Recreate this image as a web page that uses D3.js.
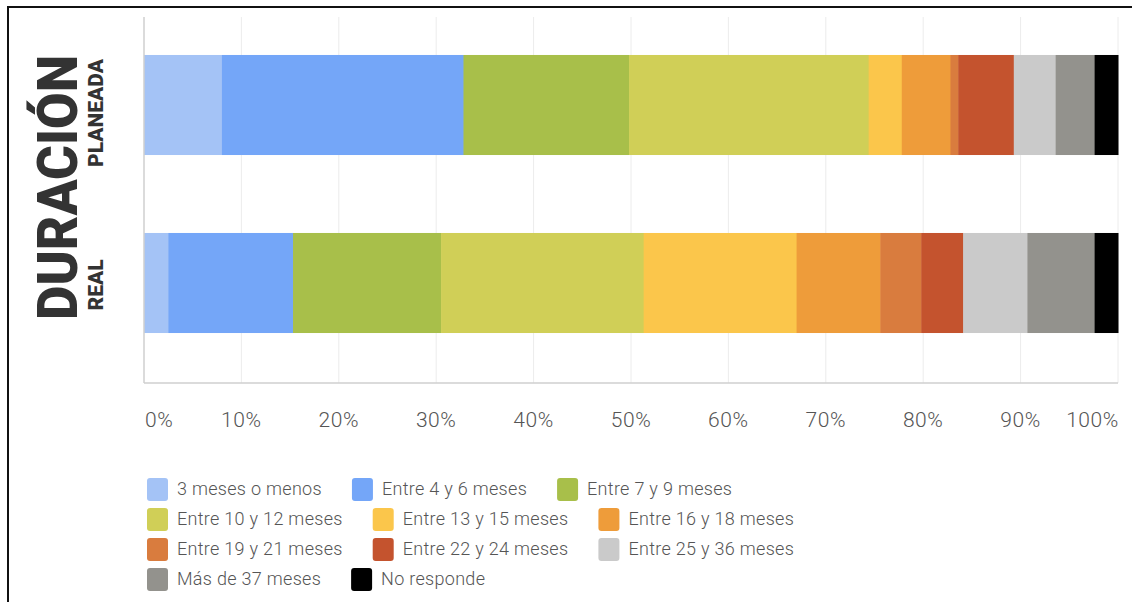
<!DOCTYPE html>
<html>
<head>
<meta charset="utf-8">
<script src="https://cdn.jsdelivr.net/npm/d3@7"></script>
<style>
  body{ margin:0; background:#fff; }
  svg text{ font-family: Roboto, "Noto Sans", sans-serif; }
</style>
</head>
<body>
<div id="chart"></div>
<script>

// Data (percent of respondents).
const groups = [ 'PLANEADA', 'REAL' ];
const categories = [
  '3 meses o menos', 'Entre 4 y 6 meses', 'Entre 7 y 9 meses',
  'Entre 10 y 12 meses', 'Entre 13 y 15 meses', 'Entre 16 y 18 meses',
  'Entre 19 y 21 meses', 'Entre 22 y 24 meses', 'Entre 25 y 36 meses',
  'Más de 37 meses', 'No responde'
];
const planeada = [ 8.0, 24.8, 17.0, 24.6, 3.4, 5.0, 0.8, 5.7, 4.3, 4.0, 2.4 ];
const real     = [ 2.5, 12.8, 15.2, 20.8, 15.7, 8.6, 4.2, 4.3, 6.6, 6.9, 2.4 ];
const colors = [
  '#a4c3f6', '#74a6f8', '#a8bf4a', '#d0cf57', '#fbc64b', '#ee9c3a',
  '#d97c3e', '#c4532e', '#cacaca', '#93928d', '#000000'
];
const xTicks = [ 0, 10, 20, 30, 40, 50, 60, 70, 80, 90, 100 ];
const legendPerRow = 3;

const W = 1132, H = 602;
const plot = { left: 144, right: 1118, top: 17, bottom: 383 };

const svg = d3.select( '#chart' ).append( 'svg' )
  .attr( 'width', W ).attr( 'height', H );

// Frame lines (top and left) of the cropped picture.
svg.append( 'path' )
  .attr( 'd', 'M8,' + H + 'V7H' + W )
  .attr( 'fill', 'none' ).attr( 'stroke', '#111' ).attr( 'stroke-width', 2 );

const x = d3.scaleLinear().domain( [ 0, 100 ] ).range( [ plot.left, plot.right ] );
const y = d3.scaleBand().domain( groups ).range( [ 16, 372 ] )
  .paddingInner( 0.438 ).paddingOuter( 0.219 );

// Gridlines.
svg.append( 'g' ).selectAll( 'line' )
  .data( xTicks.slice( 1 ) )
  .enter().append( 'line' )
    .attr( 'x1', d => x( d ) ).attr( 'x2', d => x( d ) )
    .attr( 'y1', plot.top ).attr( 'y2', plot.bottom )
    .attr( 'stroke', '#ececec' ).attr( 'stroke-width', 1 );

// Stacked bars.
const seriesData = { PLANEADA: planeada, REAL: real };
groups.forEach( g => {
  const vals = seriesData[ g ];
  let acc = 0;
  const segs = vals.map( ( v, i ) => { const s = { x0: acc, x1: acc + v, c: colors[ i ] }; acc += v; return s; } );
  svg.append( 'g' ).selectAll( 'rect' )
    .data( segs )
    .enter().append( 'rect' )
      .attr( 'x', d => x( d.x0 ) )
      .attr( 'width', d => x( d.x1 ) - x( d.x0 ) + 0.5 )
      .attr( 'y', y( g ) )
      .attr( 'height', y.bandwidth() )
      .attr( 'fill', d => d.c );
});

// Axis lines.
svg.append( 'line' )
  .attr( 'x1', plot.left ).attr( 'x2', plot.left )
  .attr( 'y1', plot.top ).attr( 'y2', plot.bottom )
  .attr( 'stroke', '#cfcfcf' ).attr( 'stroke-width', 1.5 );
svg.append( 'line' )
  .attr( 'x1', plot.left ).attr( 'x2', plot.right )
  .attr( 'y1', plot.bottom ).attr( 'y2', plot.bottom )
  .attr( 'stroke', '#cfcfcf' ).attr( 'stroke-width', 1.5 );

// Tick labels (first and last kept inside the plot width).
svg.append( 'g' ).selectAll( 'text' )
  .data( xTicks )
  .enter().append( 'text' )
    .attr( 'x', d => d === 0 ? x( d ) + 1 : d === 100 ? x( d ) + 1 : x( d ) )
    .attr( 'y', 427 )
    .attr( 'text-anchor', d => d === 0 ? 'start' : d === 100 ? 'end' : 'middle' )
    .attr( 'font-size', 21 ).attr( 'font-weight', 300 ).attr( 'fill', '#555' )
    .attr( 'letter-spacing', 0.6 )
    .text( d => d + '%' );

// Title and group labels, rotated.
svg.append( 'text' )
  .attr( 'transform', 'translate(77,320) rotate(-90)' )
  .attr( 'font-size', 56 ).attr( 'font-weight', 900 ).attr( 'fill', '#333' )
  .attr( 'textLength', 265 ).attr( 'lengthAdjust', 'spacingAndGlyphs' )
  .text( 'DURACIÓN' );
svg.append( 'g' ).selectAll( 'text' )
  .data( groups )
  .enter().append( 'text' )
    .attr( 'transform', d => 'translate(103,' + ( y( d ) + y.bandwidth() / 2 + ( d === 'REAL' ? 2 : 8 ) ) + ') rotate(-90)' )
    .attr( 'text-anchor', 'middle' )
    .attr( 'font-size', 21 ).attr( 'font-weight', 900 ).attr( 'fill', '#333' )
    .text( d => d );

// Legend, laid out as a flow of three items per row.
const legend = svg.append( 'g' );
let lx = 147;
categories.forEach( ( c, i ) => {
  const row = Math.floor( i / legendPerRow );
  if( i % legendPerRow === 0 ){ lx = 147; }
  const ly = 478 + row * 30;
  legend.append( 'rect' )
    .attr( 'x', lx ).attr( 'y', ly )
    .attr( 'width', 21 ).attr( 'height', 23 ).attr( 'rx', 3 )
    .attr( 'fill', colors[ i ] );
  const t = legend.append( 'text' )
    .attr( 'x', lx + 30 ).attr( 'y', ly + 17 )
    .attr( 'font-size', 18 ).attr( 'font-weight', 300 ).attr( 'fill', '#555' )
    .attr( 'letter-spacing', 0.3 )
    .text( c );
  lx = lx + 30 + t.node().getComputedTextLength() + 30;
});

</script>
</body>
</html>
